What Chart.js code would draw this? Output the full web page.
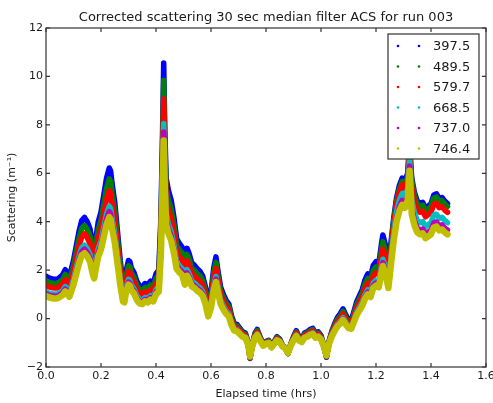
<!DOCTYPE html>
<html>
<head>
<meta charset="utf-8">
<script src="https://cdn.jsdelivr.net/npm/chart.js@4.4.0/dist/chart.umd.min.js"></script>
<style>
  html, body { margin: 0; padding: 0; background: #fff; }
  canvas { display: block; }
</style>
</head>
<body>
<canvas id="scatterChart" width="493" height="403"></canvas>
<script>
// elapsed time (hrs) of each sample
const hours = [
  0.00, 0.01, 0.02, 0.03, 0.04, 0.05, 0.06, 0.07, 0.08, 0.085,
  0.09, 0.10, 0.11, 0.12, 0.13, 0.14, 0.15, 0.16, 0.17, 0.175,
  0.18, 0.19, 0.20, 0.21, 0.22, 0.23, 0.235, 0.24, 0.25, 0.26,
  0.27, 0.28, 0.285, 0.29, 0.30, 0.305, 0.31, 0.32, 0.33, 0.34,
  0.35, 0.36, 0.37, 0.38, 0.39, 0.40, 0.41, 0.418, 0.424, 0.428,
  0.432, 0.437, 0.445, 0.455, 0.465, 0.475, 0.485, 0.495, 0.505, 0.513,
  0.52, 0.53, 0.54, 0.55, 0.56, 0.57, 0.58, 0.59, 0.60, 0.61,
  0.618, 0.625, 0.635, 0.645, 0.655, 0.665, 0.675, 0.685, 0.695, 0.705,
  0.715, 0.725, 0.735, 0.742, 0.75, 0.76, 0.768, 0.78, 0.79, 0.80,
  0.81, 0.82, 0.83, 0.84, 0.85, 0.86, 0.87, 0.88, 0.89, 0.90,
  0.91, 0.92, 0.93, 0.94, 0.95, 0.96, 0.97, 0.98, 0.99, 1.00,
  1.01, 1.02, 1.03, 1.04, 1.05, 1.06, 1.07, 1.08, 1.09, 1.10,
  1.11, 1.12, 1.13, 1.14, 1.15, 1.16, 1.17, 1.18, 1.19, 1.20,
  1.21, 1.22, 1.225, 1.235, 1.245, 1.255, 1.265, 1.275, 1.285, 1.295,
  1.305, 1.315, 1.322, 1.33, 1.34, 1.35, 1.36, 1.37, 1.38, 1.39,
  1.40, 1.41, 1.42, 1.43, 1.44, 1.45, 1.46
];

// scattering (1/m) per wavelength channel
const scat397 = [
  1.75, 1.68, 1.65, 1.62, 1.62, 1.70, 1.80, 2.02, 1.85, 1.72,
  1.95, 2.40, 3.00, 3.60, 4.05, 4.18, 4.00, 3.70, 3.00, 2.75,
  3.20, 4.00, 4.40, 5.10, 5.80, 6.22, 6.10, 5.60, 4.80, 3.60,
  2.40, 1.45, 1.40, 1.90, 2.40, 2.35, 2.10, 1.90, 1.55, 1.35,
  1.30, 1.45, 1.40, 1.55, 1.45, 1.85, 2.00, 4.20, 7.80, 10.55,
  7.80, 5.80, 5.30, 4.90, 4.20, 3.30, 3.10, 2.95, 2.40, 2.90,
  2.70, 2.30, 2.20, 2.05, 1.95, 1.75, 1.30, 0.60, 1.10, 2.10,
  2.55, 2.00, 1.30, 1.00, 0.75, 0.60, 0.10, -0.20, -0.25, -0.40,
  -0.55, -0.60, -1.00, -1.65, -1.10, -0.60, -0.45, -0.80, -1.05, -0.95,
  -0.90, -1.15, -0.95, -0.75, -0.85, -1.10, -1.20, -1.45, -1.05, -0.75,
  -0.50, -0.75, -0.85, -0.60, -0.55, -0.45, -0.40, -0.60, -0.55, -0.70,
  -1.10, -1.60, -0.90, -0.50, -0.20, 0.05, 0.20, 0.40, 0.15, -0.05,
  -0.10, 0.30, 0.70, 0.95, 1.20, 1.60, 1.85, 1.70, 2.20, 2.35,
  2.25, 3.10, 3.45, 3.00, 2.20, 3.20, 4.20, 5.00, 5.50, 5.80,
  5.65, 6.00, 7.20, 5.80, 5.20, 4.85, 4.75, 4.80, 4.55, 4.65,
  4.75, 5.10, 5.15, 4.95, 5.00, 4.85, 4.75
];
const scat489 = [
  1.57, 1.50, 1.47, 1.45, 1.45, 1.52, 1.61, 1.82, 1.66, 1.54,
  1.76, 2.18, 2.74, 3.31, 3.73, 3.85, 3.68, 3.40, 2.74, 2.51,
  2.93, 3.68, 4.06, 4.72, 5.37, 5.77, 5.66, 5.19, 4.43, 3.31,
  2.18, 1.29, 1.24, 1.71, 2.18, 2.13, 1.90, 1.71, 1.38, 1.19,
  1.14, 1.29, 1.24, 1.38, 1.29, 1.66, 1.80, 3.87, 7.25, 9.84,
  7.25, 5.37, 4.90, 4.53, 3.87, 3.02, 2.84, 2.70, 2.18, 2.65,
  2.46, 2.08, 1.99, 1.85, 1.76, 1.57, 1.14, 0.49, 0.96, 1.90,
  2.32, 1.80, 1.14, 0.86, 0.63, 0.49, 0.02, -0.27, -0.31, -0.45,
  -0.60, -0.64, -1.02, -1.63, -1.11, -0.64, -0.50, -0.83, -1.07, -0.97,
  -0.92, -1.16, -0.97, -0.78, -0.88, -1.11, -1.21, -1.44, -1.07, -0.78,
  -0.55, -0.78, -0.88, -0.64, -0.60, -0.50, -0.45, -0.64, -0.60, -0.74,
  -1.11, -1.58, -0.92, -0.55, -0.27, -0.03, 0.11, 0.30, 0.06, -0.13,
  -0.17, 0.20, 0.58, 0.82, 1.05, 1.43, 1.66, 1.52, 1.99, 2.13,
  2.04, 2.84, 3.17, 2.74, 1.99, 3.02, 4.09, 4.87, 5.36, 5.66,
  5.51, 5.85, 7.00, 5.66, 5.07, 4.73, 4.63, 4.68, 4.43, 4.53,
  4.63, 4.97, 5.02, 4.83, 4.87, 4.73, 4.63
];
const scat579 = [
  1.37, 1.31, 1.28, 1.26, 1.26, 1.33, 1.41, 1.61, 1.46, 1.34,
  1.54, 1.94, 2.46, 2.99, 3.38, 3.50, 3.34, 3.08, 2.46, 2.24,
  2.64, 3.34, 3.69, 4.30, 4.91, 5.28, 5.18, 4.74, 4.04, 2.99,
  1.94, 1.11, 1.06, 1.50, 1.94, 1.89, 1.68, 1.50, 1.19, 1.02,
  0.98, 1.11, 1.06, 1.19, 1.11, 1.46, 1.59, 3.51, 6.66, 9.07,
  6.66, 4.91, 4.48, 4.13, 3.51, 2.73, 2.55, 2.42, 1.94, 2.38,
  2.20, 1.85, 1.76, 1.63, 1.54, 1.37, 0.98, 0.36, 0.80, 1.68,
  2.07, 1.59, 0.98, 0.71, 0.49, 0.36, -0.08, -0.34, -0.38, -0.51,
  -0.64, -0.69, -1.04, -1.61, -1.13, -0.69, -0.56, -0.86, -1.08, -0.99,
  -0.95, -1.17, -0.99, -0.82, -0.91, -1.13, -1.21, -1.43, -1.08, -0.82,
  -0.60, -0.82, -0.91, -0.69, -0.64, -0.56, -0.51, -0.69, -0.64, -0.78,
  -1.13, -1.56, -0.95, -0.60, -0.34, -0.12, 0.01, 0.19, -0.03, -0.21,
  -0.25, 0.10, 0.45, 0.67, 0.89, 1.24, 1.46, 1.33, 1.76, 1.89,
  1.81, 2.55, 2.86, 2.46, 1.76, 2.84, 3.93, 4.75, 5.23, 5.52,
  5.37, 5.71, 6.90, 5.37, 4.81, 4.48, 4.39, 4.43, 4.20, 4.29,
  4.39, 4.72, 4.76, 4.58, 4.62, 4.48, 4.39
];
const scat668 = [
  1.11, 1.05, 1.03, 1.01, 1.01, 1.07, 1.15, 1.32, 1.19, 1.09,
  1.27, 1.62, 2.10, 2.57, 2.93, 3.03, 2.89, 2.65, 2.10, 1.90,
  2.26, 2.89, 3.20, 3.76, 4.31, 4.64, 4.55, 4.15, 3.52, 2.57,
  1.62, 0.87, 0.83, 1.23, 1.62, 1.58, 1.39, 1.23, 0.95, 0.79,
  0.75, 0.87, 0.83, 0.95, 0.87, 1.19, 1.31, 3.05, 5.89, 8.06,
  5.89, 4.31, 3.91, 3.60, 3.05, 2.33, 2.18, 2.06, 1.62, 2.02,
  1.86, 1.54, 1.47, 1.35, 1.27, 1.11, 0.75, 0.20, 0.60, 1.39,
  1.74, 1.31, 0.75, 0.52, 0.32, 0.20, -0.19, -0.43, -0.47, -0.59,
  -0.71, -0.75, -1.06, -1.58, -1.14, -0.75, -0.63, -0.91, -1.10, -1.02,
  -0.98, -1.18, -1.02, -0.87, -0.94, -1.14, -1.22, -1.42, -1.10, -0.87,
  -0.67, -0.87, -0.94, -0.75, -0.71, -0.63, -0.59, -0.75, -0.71, -0.83,
  -1.14, -1.54, -0.98, -0.67, -0.43, -0.23, -0.12, 0.04, -0.15, -0.31,
  -0.35, -0.04, 0.28, 0.48, 0.68, 0.99, 1.19, 1.07, 1.47, 1.58,
  1.50, 2.18, 2.45, 2.10, 1.47, 2.57, 3.60, 4.43, 4.89, 5.16,
  5.02, 5.34, 6.60, 4.88, 4.36, 4.05, 3.96, 4.01, 3.79, 3.88,
  3.96, 4.27, 4.31, 4.14, 4.18, 4.05, 3.96
];
const scat737 = [
  1.02, 0.97, 0.94, 0.92, 0.92, 0.98, 1.06, 1.22, 1.09, 1.00,
  1.17, 1.51, 1.97, 2.42, 2.77, 2.87, 2.73, 2.50, 1.97, 1.78,
  2.12, 2.73, 3.03, 3.56, 4.10, 4.42, 4.32, 3.94, 3.34, 2.42,
  1.51, 0.79, 0.75, 1.13, 1.51, 1.47, 1.28, 1.13, 0.87, 0.71,
  0.68, 0.79, 0.75, 0.87, 0.79, 1.09, 1.21, 2.88, 5.62, 7.71,
  5.62, 4.10, 3.72, 3.41, 2.88, 2.20, 2.04, 1.93, 1.51, 1.89,
  1.74, 1.44, 1.36, 1.25, 1.17, 1.02, 0.68, 0.14, 0.52, 1.28,
  1.63, 1.21, 0.68, 0.45, 0.26, 0.14, -0.24, -0.46, -0.50, -0.62,
  -0.73, -0.77, -1.07, -1.57, -1.15, -0.77, -0.65, -0.92, -1.11, -1.03,
  -1.00, -1.19, -1.03, -0.88, -0.96, -1.15, -1.22, -1.41, -1.11, -0.88,
  -0.69, -0.88, -0.96, -0.77, -0.73, -0.65, -0.62, -0.77, -0.73, -0.84,
  -1.15, -1.53, -1.00, -0.69, -0.46, -0.27, -0.16, -0.01, -0.20, -0.35,
  -0.39, -0.08, 0.22, 0.41, 0.60, 0.90, 1.09, 0.98, 1.36, 1.47,
  1.40, 2.04, 2.31, 1.97, 1.36, 2.44, 3.43, 4.18, 4.62, 4.88,
  4.75, 5.05, 6.30, 4.52, 4.03, 3.74, 3.66, 3.70, 3.50, 3.58,
  3.66, 3.95, 3.99, 3.83, 3.87, 3.74, 3.66
];
const scat746 = [
  0.93, 0.88, 0.85, 0.83, 0.83, 0.89, 0.96, 1.12, 1.00, 0.90,
  1.07, 1.40, 1.84, 2.28, 2.61, 2.70, 2.57, 2.35, 1.84, 1.66,
  1.99, 2.57, 2.86, 3.37, 3.88, 4.19, 4.10, 3.74, 3.15, 2.28,
  1.40, 0.71, 0.67, 1.04, 1.40, 1.36, 1.18, 1.04, 0.78, 0.63,
  0.60, 0.71, 0.67, 0.78, 0.71, 1.00, 1.11, 2.72, 5.34, 7.35,
  5.34, 3.88, 3.52, 3.23, 2.72, 2.06, 1.91, 1.80, 1.40, 1.77,
  1.62, 1.33, 1.26, 1.15, 1.07, 0.93, 0.60, 0.09, 0.45, 1.18,
  1.51, 1.11, 0.60, 0.38, 0.20, 0.09, -0.28, -0.50, -0.53, -0.64,
  -0.75, -0.79, -1.08, -1.56, -1.15, -0.79, -0.68, -0.94, -1.12, -1.04,
  -1.01, -1.19, -1.04, -0.90, -0.97, -1.15, -1.23, -1.41, -1.12, -0.90,
  -0.72, -0.90, -0.97, -0.79, -0.75, -0.68, -0.64, -0.79, -0.75, -0.86,
  -1.15, -1.52, -1.01, -0.72, -0.50, -0.31, -0.21, -0.06, -0.24, -0.39,
  -0.42, -0.13, 0.16, 0.34, 0.53, 0.82, 1.00, 0.89, 1.26, 1.36,
  1.29, 1.91, 2.17, 1.84, 1.26, 2.30, 3.27, 4.02, 4.45, 4.70,
  4.57, 4.87, 6.10, 4.31, 3.84, 3.56, 3.48, 3.52, 3.32, 3.40,
  3.48, 3.76, 3.80, 3.64, 3.68, 3.56, 3.48
];

const channelLabels = ['397.5', '489.5', '579.7', '668.5', '737.0', '746.4'];
const channelData = [scat397, scat489, scat579, scat668, scat737, scat746];
const xTicks = [0, 0.2, 0.4, 0.6, 0.8, 1.0, 1.2, 1.4, 1.6];
const yTicks = [-2, 0, 2, 4, 6, 8, 10, 12];

// matplotlib "classic" colour cycle
const channelColors = ['#0000ff', '#008000', '#ff0000', '#00bfbf', '#bf00bf', '#bfbf00'];
const lineWidths = [5.5, 5.5, 5.5, 5.5, 5.5, 6.5];

const chartTitle = 'Corrected scattering 30 sec median filter ACS for run 003';
const FONT = 'DejaVu Sans';
const INK = '#1a1a1a';

const datasets = channelData.map((vals, i) => ({
  label: channelLabels[i],
  data: vals.map((v, j) => ({ x: hours[j], y: v })),
  borderColor: channelColors[i],
  backgroundColor: channelColors[i],
  borderWidth: lineWidths[i],
  borderJoinStyle: 'round',
  borderCapStyle: 'round',
  pointRadius: 0,
  tension: 0,
  clip: 0,
  // later channels are painted over earlier ones
  order: channelData.length - i
}));

// boxed axes with inward ticks on all four sides, plus the title
const frameTicks = {
  id: 'frameTicks',
  afterDatasetsDraw(chart) {
    const { ctx, chartArea: a, scales: { x, y } } = chart;
    ctx.save();
    ctx.strokeStyle = '#333';
    ctx.lineWidth = 1.2;
    ctx.beginPath();
    xTicks.forEach(v => {
      const px = x.getPixelForValue(v);
      ctx.moveTo(px, a.bottom); ctx.lineTo(px, a.bottom - 4);
      ctx.moveTo(px, a.top); ctx.lineTo(px, a.top + 4);
    });
    yTicks.forEach(v => {
      const py = y.getPixelForValue(v);
      ctx.moveTo(a.left, py); ctx.lineTo(a.left + 4, py);
      ctx.moveTo(a.right, py); ctx.lineTo(a.right - 4, py);
    });
    ctx.stroke();
    ctx.strokeRect(a.left, a.top, a.right - a.left, a.bottom - a.top);

    ctx.fillStyle = INK;
    ctx.font = '13px "' + FONT + '"';
    ctx.textAlign = 'center';
    ctx.textBaseline = 'middle';
    ctx.fillText(chartTitle, (a.left + a.right) / 2, a.top - 10);
    ctx.restore();
  }
};

// legend box in the upper right corner of the axes
const insetLegend = {
  id: 'insetLegend',
  afterDraw(chart) {
    const { ctx, chartArea: a } = chart;
    const w = 91, h = 125, rowGap = 20.5;
    const left = a.right - 7 - w, top = a.top + 6;
    ctx.save();
    ctx.fillStyle = '#fff';
    ctx.fillRect(left, top, w, h);
    ctx.strokeStyle = '#333';
    ctx.lineWidth = 1.2;
    ctx.strokeRect(left, top, w, h);
    ctx.font = '13px "' + FONT + '"';
    ctx.textAlign = 'left';
    ctx.textBaseline = 'middle';
    channelLabels.forEach((lab, i) => {
      const cy = top + 12 + i * rowGap;
      ctx.fillStyle = channelColors[i];
      [10, 31].forEach(dx => {
        ctx.beginPath();
        ctx.arc(left + dx, cy, 1.3, 0, Math.PI * 2);
        ctx.fill();
      });
      ctx.fillStyle = INK;
      ctx.fillText(lab, left + 45, cy + 1);
    });
    ctx.restore();
  }
};

const tickFont = { family: FONT, size: 11 };

new Chart(document.getElementById('scatterChart'), {
  type: 'line',
  data: { datasets },
  options: {
    responsive: false,
    animation: false,
    events: [],
    layout: { padding: { left: 0, right: 7, top: 28, bottom: 0 } },
    plugins: {
      legend: { display: false },
      tooltip: { enabled: false },
      title: { display: false }
    },
    scales: {
      x: {
        type: 'linear',
        min: 0,
        max: 1.6,
        afterBuildTicks: s => { s.ticks = xTicks.map(v => ({ value: v })); },
        ticks: {
          color: INK, font: tickFont, padding: 3, maxRotation: 0, autoSkip: false,
          callback: v => v.toFixed(1)
        },
        grid: { display: false, drawTicks: false },
        border: { display: false },
        title: {
          display: true, text: 'Elapsed time (hrs)', color: INK,
          font: { family: FONT, size: 11 }, padding: { top: 0, bottom: 2.5 }
        },
        afterFit: s => { s.height = 36; s.paddingLeft = 0; s.paddingRight = 0; }
      },
      y: {
        type: 'linear',
        min: -2,
        max: 12,
        afterBuildTicks: s => { s.ticks = yTicks.map(v => ({ value: v })); },
        ticks: {
          color: INK, font: tickFont, padding: 3,
          callback: v => (v < 0 ? '\u2212' + Math.abs(v) : String(v))
        },
        grid: { display: false, drawTicks: false },
        border: { display: false },
        title: {
          display: true, text: 'Scattering (m\u207B\u00B9)', color: INK,
          font: { family: FONT, size: 11 }, padding: { top: 6, bottom: 0 }
        },
        afterFit: s => { s.width = 46; s.paddingTop = 0; s.paddingBottom = 0; }
      }
    }
  },
  plugins: [frameTicks, insetLegend]
});
</script>
</body>
</html>
